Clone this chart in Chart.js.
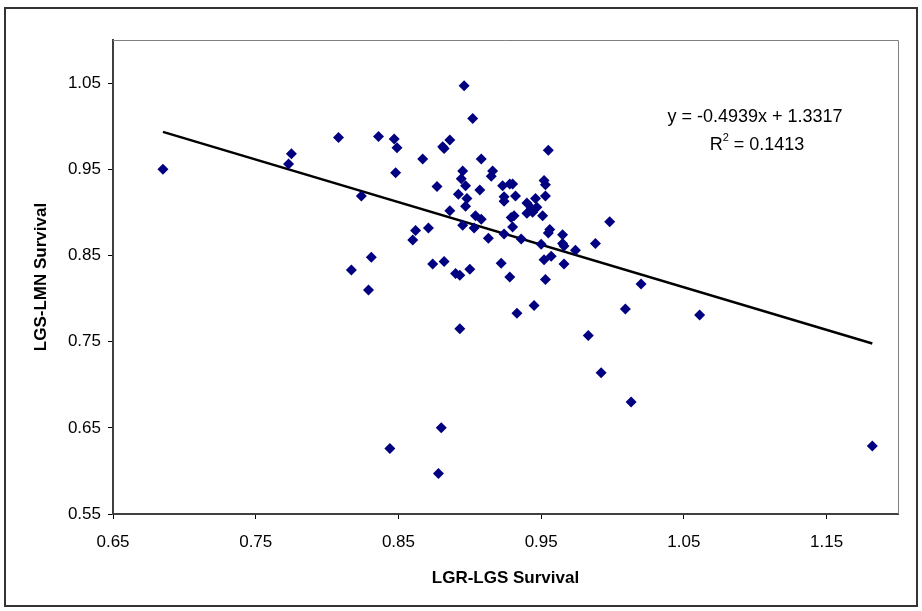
<!DOCTYPE html>
<html>
<head>
<meta charset="utf-8">
<script src="https://cdn.jsdelivr.net/npm/chart.js@4"></script>
<style>
  body { margin: 0; background: #fff; }
  #wrap { width: 922px; height: 611px; position: relative; }
</style>
</head>
<body>
<div id="wrap"><canvas id="chart" width="922" height="611"></canvas></div>
<script>
// LGR-LGS survival (x) vs LGS-LMN survival (y)
const xValues = [
  0.685, 0.773, 0.775, 0.808, 0.817, 0.824, 0.829, 0.831, 0.836, 0.847,
  0.849, 0.848, 0.844, 0.860, 0.862, 0.871, 0.867, 0.874, 0.877, 0.878,
  0.880, 0.881, 0.882, 0.882, 0.886, 0.886, 0.890, 0.893, 0.892, 0.893,
  0.894, 0.895, 0.895, 0.896, 0.897, 0.897, 0.898, 0.900, 0.902, 0.903,
  0.904, 0.907, 0.908, 0.908, 0.913, 0.915, 0.916, 0.922, 0.923, 0.924,
  0.924, 0.924, 0.928, 0.928, 0.930, 0.930, 0.931, 0.929, 0.932, 0.933,
  0.936, 0.940, 0.946, 0.943, 0.940, 0.944, 0.947, 0.945, 0.950, 0.951,
  0.952, 0.953, 0.953, 0.952, 0.953, 0.955, 0.956, 0.955, 0.957, 0.965,
  0.965, 0.966, 0.966, 0.974, 0.983, 0.988, 0.992, 0.998, 1.009, 1.013,
  1.020, 1.061, 1.182
];
const yValues = [
  0.950, 0.956, 0.968, 0.987, 0.833, 0.919, 0.810, 0.848, 0.988, 0.985,
  0.975, 0.946, 0.626, 0.868, 0.879, 0.882, 0.962, 0.840, 0.930, 0.597,
  0.650, 0.976, 0.974, 0.843, 0.984, 0.902, 0.829, 0.827, 0.921, 0.765,
  0.939, 0.948, 0.885, 1.047, 0.931, 0.907, 0.916, 0.834, 1.009, 0.882,
  0.896, 0.926, 0.962, 0.892, 0.870, 0.942, 0.948, 0.841, 0.931, 0.918,
  0.913, 0.875, 0.933, 0.825, 0.933, 0.883, 0.896, 0.894, 0.919, 0.783,
  0.869, 0.911, 0.916, 0.905, 0.899, 0.900, 0.906, 0.792, 0.863, 0.896,
  0.937, 0.932, 0.919, 0.845, 0.822, 0.972, 0.880, 0.876, 0.849, 0.874,
  0.864, 0.861, 0.840, 0.856, 0.757, 0.864, 0.714, 0.889, 0.788, 0.680,
  0.817, 0.781, 0.629
];
const xTicks = [0.65, 0.75, 0.85, 0.95, 1.05, 1.15];
const yTicks = [0.55, 0.65, 0.75, 0.85, 0.95, 1.05];
const trendSlope = -0.4939;
const trendIntercept = 1.3317;
const rSquared = 0.1413;

const points = xValues.map((x, i) => ({ x: x, y: yValues[i] }));
const xMin = Math.min(...xValues);
const xMax = Math.max(...xValues);
const trend = [xMin, xMax].map(x => ({ x: x, y: trendSlope * x + trendIntercept }));

const FONT = "'Liberation Sans', Arial, sans-serif";

// frame round the whole chart, top/right edges of the plot, and the equation
const extras = {
  id: "extras",
  beforeDraw(chart) {
    const ctx = chart.ctx;
    ctx.save();
    ctx.fillStyle = "#fff";
    ctx.fillRect(0, 0, chart.width, chart.height);
    ctx.restore();
  },
  afterDraw(chart) {
    const ctx = chart.ctx;
    const a = chart.chartArea;
    ctx.save();
    ctx.strokeStyle = "#808080";
    ctx.lineWidth = 1;
    ctx.beginPath();
    ctx.moveTo(a.left, a.top + 0.5);
    ctx.lineTo(a.right + 0.5, a.top + 0.5);
    ctx.lineTo(a.right + 0.5, a.bottom);
    ctx.stroke();

    ctx.strokeStyle = "#333";
    ctx.lineWidth = 2;
    ctx.strokeRect(5, 8, chart.width - 10, chart.height - 13);

    ctx.fillStyle = "#000";
    ctx.font = "18px " + FONT;
    ctx.textAlign = "center";
    ctx.textBaseline = "alphabetic";
    const sign = trendIntercept >= 0 ? " + " : " - ";
    ctx.fillText("y = " + trendSlope.toFixed(4) + "x" + sign + Math.abs(trendIntercept).toFixed(4), 755, 122);
    const rest = " = " + rSquared.toFixed(4);
    const wR = ctx.measureText("R").width;
    ctx.font = "11px " + FONT;
    const w2 = ctx.measureText("2").width;
    ctx.font = "18px " + FONT;
    const wRest = ctx.measureText(rest).width;
    let x0 = 757 - (wR + w2 + wRest) / 2;
    ctx.textAlign = "left";
    ctx.fillText("R", x0, 150);
    ctx.font = "11px " + FONT;
    ctx.fillText("2", x0 + wR, 141);
    ctx.font = "18px " + FONT;
    ctx.fillText(rest, x0 + wR + w2, 150);
    ctx.restore();
  }
};

new Chart(document.getElementById("chart"), {
  type: "scatter",
  data: {
    datasets: [
      {
        label: "survival",
        data: points,
        pointStyle: "rectRot",
        pointRadius: 5.5,
        backgroundColor: "#000080",
        borderColor: "#000080",
        borderWidth: 0
      },
      {
        label: "trend",
        data: trend,
        showLine: true,
        pointRadius: 0,
        borderColor: "#000",
        borderWidth: 2.5,
        fill: false
      }
    ]
  },
  options: {
    responsive: false,
    animation: false,
    layout: { padding: { left: 27, top: 40, right: 24, bottom: 18 } },
    plugins: { legend: { display: false }, tooltip: { enabled: false } },
    scales: {
      x: {
        type: "linear",
        min: 0.65,
        max: 1.2,
        afterFit: s => { s.height = 79; },
        afterBuildTicks: s => { s.ticks = xTicks.map(v => ({ value: v })); },
        grid: { drawOnChartArea: false, drawTicks: true, tickLength: 5, color: "#000" },
        border: { display: true, color: "#404040", width: 2 },
        ticks: {
          color: "#000",
          padding: 13,
          maxRotation: 0,
          font: { family: FONT, size: 17 },
          callback: v => v.toFixed(2)
        },
        title: {
          display: true,
          text: "LGR-LGS Survival",
          color: "#000",
          font: { family: FONT, size: 17, weight: "bold" },
          padding: { top: 4, bottom: 4 }
        }
      },
      y: {
        type: "linear",
        min: 0.55,
        max: 1.1,
        afterFit: s => { s.width = 86; },
        afterBuildTicks: s => { s.ticks = yTicks.map(v => ({ value: v })); },
        grid: { drawOnChartArea: false, drawTicks: true, tickLength: 5, color: "#000" },
        border: { display: true, color: "#404040", width: 2 },
        ticks: {
          color: "#000",
          padding: 7,
          font: { family: FONT, size: 17 },
          callback: v => v.toFixed(2)
        },
        title: {
          display: true,
          text: "LGS-LMN Survival",
          color: "#000",
          font: { family: FONT, size: 17, weight: "bold" },
          padding: { top: 4, bottom: 4 }
        }
      }
    }
  },
  plugins: [extras]
});
</script>
</body>
</html>
